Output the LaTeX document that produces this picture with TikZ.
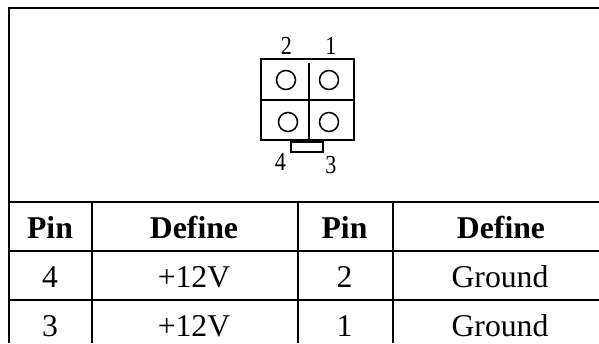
\documentclass[tikz,border=0pt]{standalone}
\usepackage{fontspec}
\setmainfont{Liberation Serif}
\tikzset{
  x=1pt,y=-1pt,
  frameline/.style={line width=2pt,black},
  pinline/.style={line width=1.5pt,black},
  cellb/.style={font=\fontsize{31.7}{32}\selectfont\bfseries,anchor=base,inner sep=0pt},
  cellt/.style={font=\fontsize{31.7}{32}\selectfont,anchor=base,inner sep=0pt},
  pinlabel/.style={font=\fontsize{26}{26}\selectfont,anchor=base,inner sep=0pt,xscale=0.85},
}
\begin{document}
\begin{tikzpicture}
\useasboundingbox (0,0) rectangle (599,343);
\coordinate (tl) at (9,8);
\coordinate (tr) at (599,8);
\coordinate (l1) at (9,202);
\coordinate (r1) at (599,202);
\coordinate (l2) at (9,251);
\coordinate (r2) at (599,251);
\coordinate (l3) at (9,300);
\coordinate (r3) at (599,300);
\coordinate (bl) at (9,343);
\coordinate (c1t) at (92,202);
\coordinate (c1b) at (92,343);
\coordinate (c2t) at (298,202);
\coordinate (c2b) at (298,343);
\coordinate (c3t) at (393,202);
\coordinate (c3b) at (393,343);
\draw[frameline] (bl) -- (tl) -- (tr);
\draw[frameline] (l1) -- (r1);
\draw[frameline] (l2) -- (r2);
\draw[frameline] (l3) -- (r3);
\draw[frameline] (c1t) -- (c1b);
\draw[frameline] (c2t) -- (c2b);
\draw[frameline] (c3t) -- (c3b);
% connector symbol
\draw[pinline] (261,59) rectangle (354,140);
\coordinate (mvt) at (309,63);
\coordinate (mvb) at (309,140);
\coordinate (mhl) at (261,100);
\coordinate (mhr) at (354,100);
\draw[pinline] (mvt) -- (mvb);
\draw[pinline] (mhl) -- (mhr);
\draw[pinline] (286,80) circle (9.5);
\draw[pinline] (329,80) circle (9.5);
\draw[pinline] (288,122) circle (9.5);
\draw[pinline] (329,122) circle (9.5);
\draw[pinline] (291,142) rectangle (323,152);
\node[pinlabel] (n2) at (286.5,54) {2};
\node[pinlabel] (n1) at (331,54) {1};
\node[pinlabel] (n4) at (280.5,170) {4};
\node[pinlabel] (n3) at (331,173) {3};
% table text
\node[cellb] (h1) at (50,238) {Pin};
\node[cellb] (h2) at (194,238) {Define};
\node[cellb] (h3) at (344.5,238) {Pin};
\node[cellb] (h4) at (501,238) {Define};
\node[cellt] (a1) at (50,287) {4};
\node[cellt] (a2) at (194,287) {+12V};
\node[cellt] (a3) at (344.5,287) {2};
\node[cellt] (a4) at (500,287) {Ground};
\node[cellt] (b1) at (50,336) {3};
\node[cellt] (b2) at (194,336) {+12V};
\node[cellt] (b3) at (344.5,336) {1};
\node[cellt] (b4) at (500,336) {Ground};
\end{tikzpicture}
\end{document}
